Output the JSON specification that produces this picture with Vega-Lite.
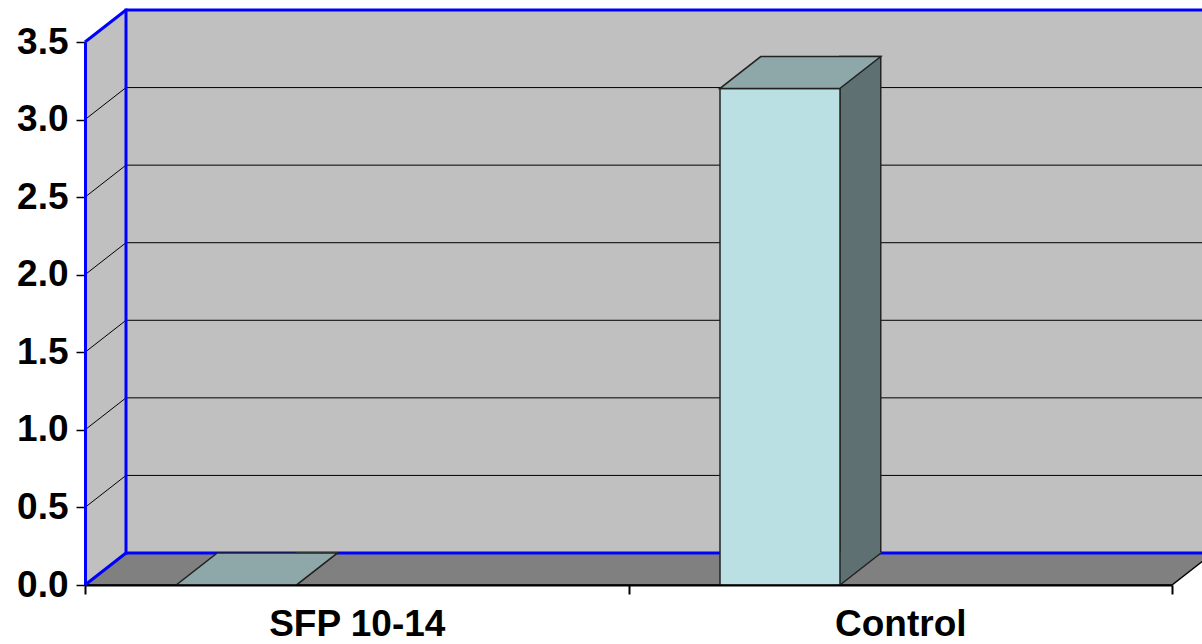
{
  "$schema": "https://vega.github.io/schema/vega-lite/v6.json",
  "width": 1076,
  "height": 543,
  "autosize": {"type": "none"},
  "padding": {"left": 126, "top": 10, "right": 0, "bottom": 91},
  "background": "#FFFFFF",
  "config": {
    "font": "Liberation Sans",
    "view": {"fill": "#C0C0C0", "stroke": null}
  },
  "datasets": {
    "bars": [
      {"category": "SFP 10-14", "value": 0},
      {"category": "Control", "value": 3.2}
    ],
    "levels": [
      {"level": 0}, {"level": 0.5}, {"level": 1}, {"level": 1.5},
      {"level": 2}, {"level": 2.5}, {"level": 3}, {"level": 3.5}
    ]
  },
  "layer": [
    {
      "data": {"name": "levels"},
      "transform": [{"filter": "datum.level === 0"}],
      "mark": {"type": "point", "shape": "M0,0 L-41,32 L-41,-511 L0,-543 Z", "size": 4, "filled": true, "fill": "#C0C0C0", "strokeWidth": 0, "opacity": 1, "xOffset": -230.75},
      "encoding": {
        "x": {"datum": "SFP 10-14", "type": "nominal", "title": null},
        "y": {"datum": 0, "type": "quantitative", "title": null}
      }
    },
    {
      "data": {"name": "levels"},
      "transform": [{"filter": "datum.level > 0 && datum.level < 3.5"}],
      "mark": {"type": "rule", "color": "#000000", "strokeWidth": 1, "opacity": 1},
      "encoding": {
        "y": {"field": "level", "type": "quantitative", "title": null}
      }
    },
    {
      "data": {"name": "levels"},
      "transform": [{"filter": "datum.level === 0"}],
      "mark": {"type": "point", "shape": "M0,0 L-41,32 L1046,32 L1087,0 Z", "size": 4, "filled": true, "fill": "#808080", "stroke": "#000000", "strokeWidth": 1.5, "opacity": 1, "xOffset": -230.75},
      "encoding": {
        "x": {"datum": "SFP 10-14", "type": "nominal", "title": null},
        "y": {"datum": 0, "type": "quantitative", "title": null}
      }
    },
    {
      "data": {"name": "levels"},
      "mark": {"type": "point", "shape": "M0,0 L-41,32", "size": 4, "filled": false, "opacity": 1, "xOffset": -230.75},
      "encoding": {
        "x": {"datum": "SFP 10-14", "type": "nominal", "title": null},
        "y": {"field": "level", "type": "quantitative", "title": null},
        "color": {"condition": {"test": "datum.level === 0 || datum.level === 3.5", "value": "#0000FF"}, "value": "#000000"},
        "strokeWidth": {"condition": {"test": "datum.level === 0 || datum.level === 3.5", "value": 3}, "value": 1}
      }
    },
    {
      "data": {"name": "levels"},
      "transform": [{"filter": "datum.level === 0 || datum.level === 3.5"}],
      "mark": {"type": "rule", "color": "#0000FF", "strokeWidth": 3, "opacity": 1},
      "encoding": {
        "y": {"field": "level", "type": "quantitative", "title": null}
      }
    },
    {
      "data": {"name": "levels"},
      "transform": [{"filter": "datum.level === 0"}],
      "mark": {"type": "point", "shape": "M0,1.5 L0,-544.5", "size": 4, "filled": false, "stroke": "#0000FF", "strokeWidth": 3, "opacity": 1, "xOffset": -230.75},
      "encoding": {
        "x": {"datum": "SFP 10-14", "type": "nominal", "title": null},
        "y": {"datum": 0, "type": "quantitative", "title": null}
      }
    },
    {
      "data": {"name": "bars"},
      "mark": {"type": "bar", "width": 41, "xOffset": -40, "fill": "#5F7072", "stroke": "#222222", "strokeWidth": 1.5, "opacity": 1},
      "encoding": {
        "x": {"field": "category", "type": "nominal", "sort": null, "title": null,
              "scale": {"type": "band", "domain": ["SFP 10-14", "Control"], "range": [-41, 1046], "paddingInner": 0, "paddingOuter": 0},
              "axis": {"orient": "bottom", "offset": 32, "title": null, "labelAngle": 0, "labelAlign": "center", "labelBaseline": "top", "bandPosition": 0.5, "domainColor": "#000000", "domainWidth": 2, "tickColor": "#000000", "tickWidth": 2, "tickSize": 9, "tickBand": "extent", "labelFont": "Liberation Sans", "labelFontSize": 37, "labelFontWeight": "bold", "labelColor": "#000000", "labelPadding": 12, "grid": false, "zindex": 1}},
        "y": {"field": "value", "type": "quantitative", "title": null,
              "scale": {"domain": [0, 3.5], "nice": false, "zero": true},
              "axis": {"orient": "left", "offset": 41, "position": 32, "title": null, "grid": false, "domain": true, "domainColor": "#0000FF", "domainWidth": 3, "ticks": true, "tickColor": "#000000", "tickSize": 9, "tickWidth": 1.5, "values": [0, 0.5, 1, 1.5, 2, 2.5, 3, 3.5], "format": ".1f", "labelAlign": "right", "labelBaseline": "middle", "labelFont": "Liberation Sans", "labelFontSize": 37, "labelFontWeight": "bold", "labelColor": "#000000", "labelPadding": 8, "labelOverlap": false, "labelFlush": false, "labelBound": false, "zindex": 1}},
        "y2": {"datum": 0}
      }
    },
    {
      "data": {"name": "bars"},
      "mark": {"type": "point", "shape": "M0,-1 L40.5,-1 L41,0 L0,32 Z", "size": 4, "filled": true, "fill": "#5F7072", "strokeWidth": 0, "opacity": 1, "xOffset": -60.25},
      "encoding": {
        "x": {"field": "category", "type": "nominal", "sort": null, "title": null},
        "y": {"datum": 0, "type": "quantitative", "title": null}
      }
    },
    {
      "data": {"name": "bars"},
      "mark": {"type": "point", "shape": "M0,32 L41,0", "size": 4, "filled": false, "stroke": "#222222", "strokeWidth": 1.5, "opacity": 1, "xOffset": -60.25},
      "encoding": {
        "x": {"field": "category", "type": "nominal", "sort": null, "title": null},
        "y": {"datum": 0, "type": "quantitative", "title": null}
      }
    },
    {
      "data": {"name": "bars"},
      "mark": {"type": "bar", "width": 120, "xOffset": -120.25, "yOffset": 32, "y2Offset": 32, "fill": "#BBE0E3", "stroke": "#222222", "strokeWidth": 1.5, "opacity": 1},
      "encoding": {
        "x": {"field": "category", "type": "nominal", "sort": null, "title": null},
        "y": {"field": "value", "type": "quantitative", "title": null},
        "y2": {"datum": 0}
      }
    },
    {
      "data": {"name": "bars"},
      "mark": {"type": "point", "shape": "M0,32 L120,32 L161,0 L41,0 Z", "size": 4, "filled": true, "fill": "#8EA8AA", "stroke": "#222222", "strokeWidth": 1.5, "opacity": 1, "xOffset": -180.5},
      "encoding": {
        "x": {"field": "category", "type": "nominal", "sort": null, "title": null},
        "y": {"field": "value", "type": "quantitative", "title": null}
      }
    }
  ]
}
